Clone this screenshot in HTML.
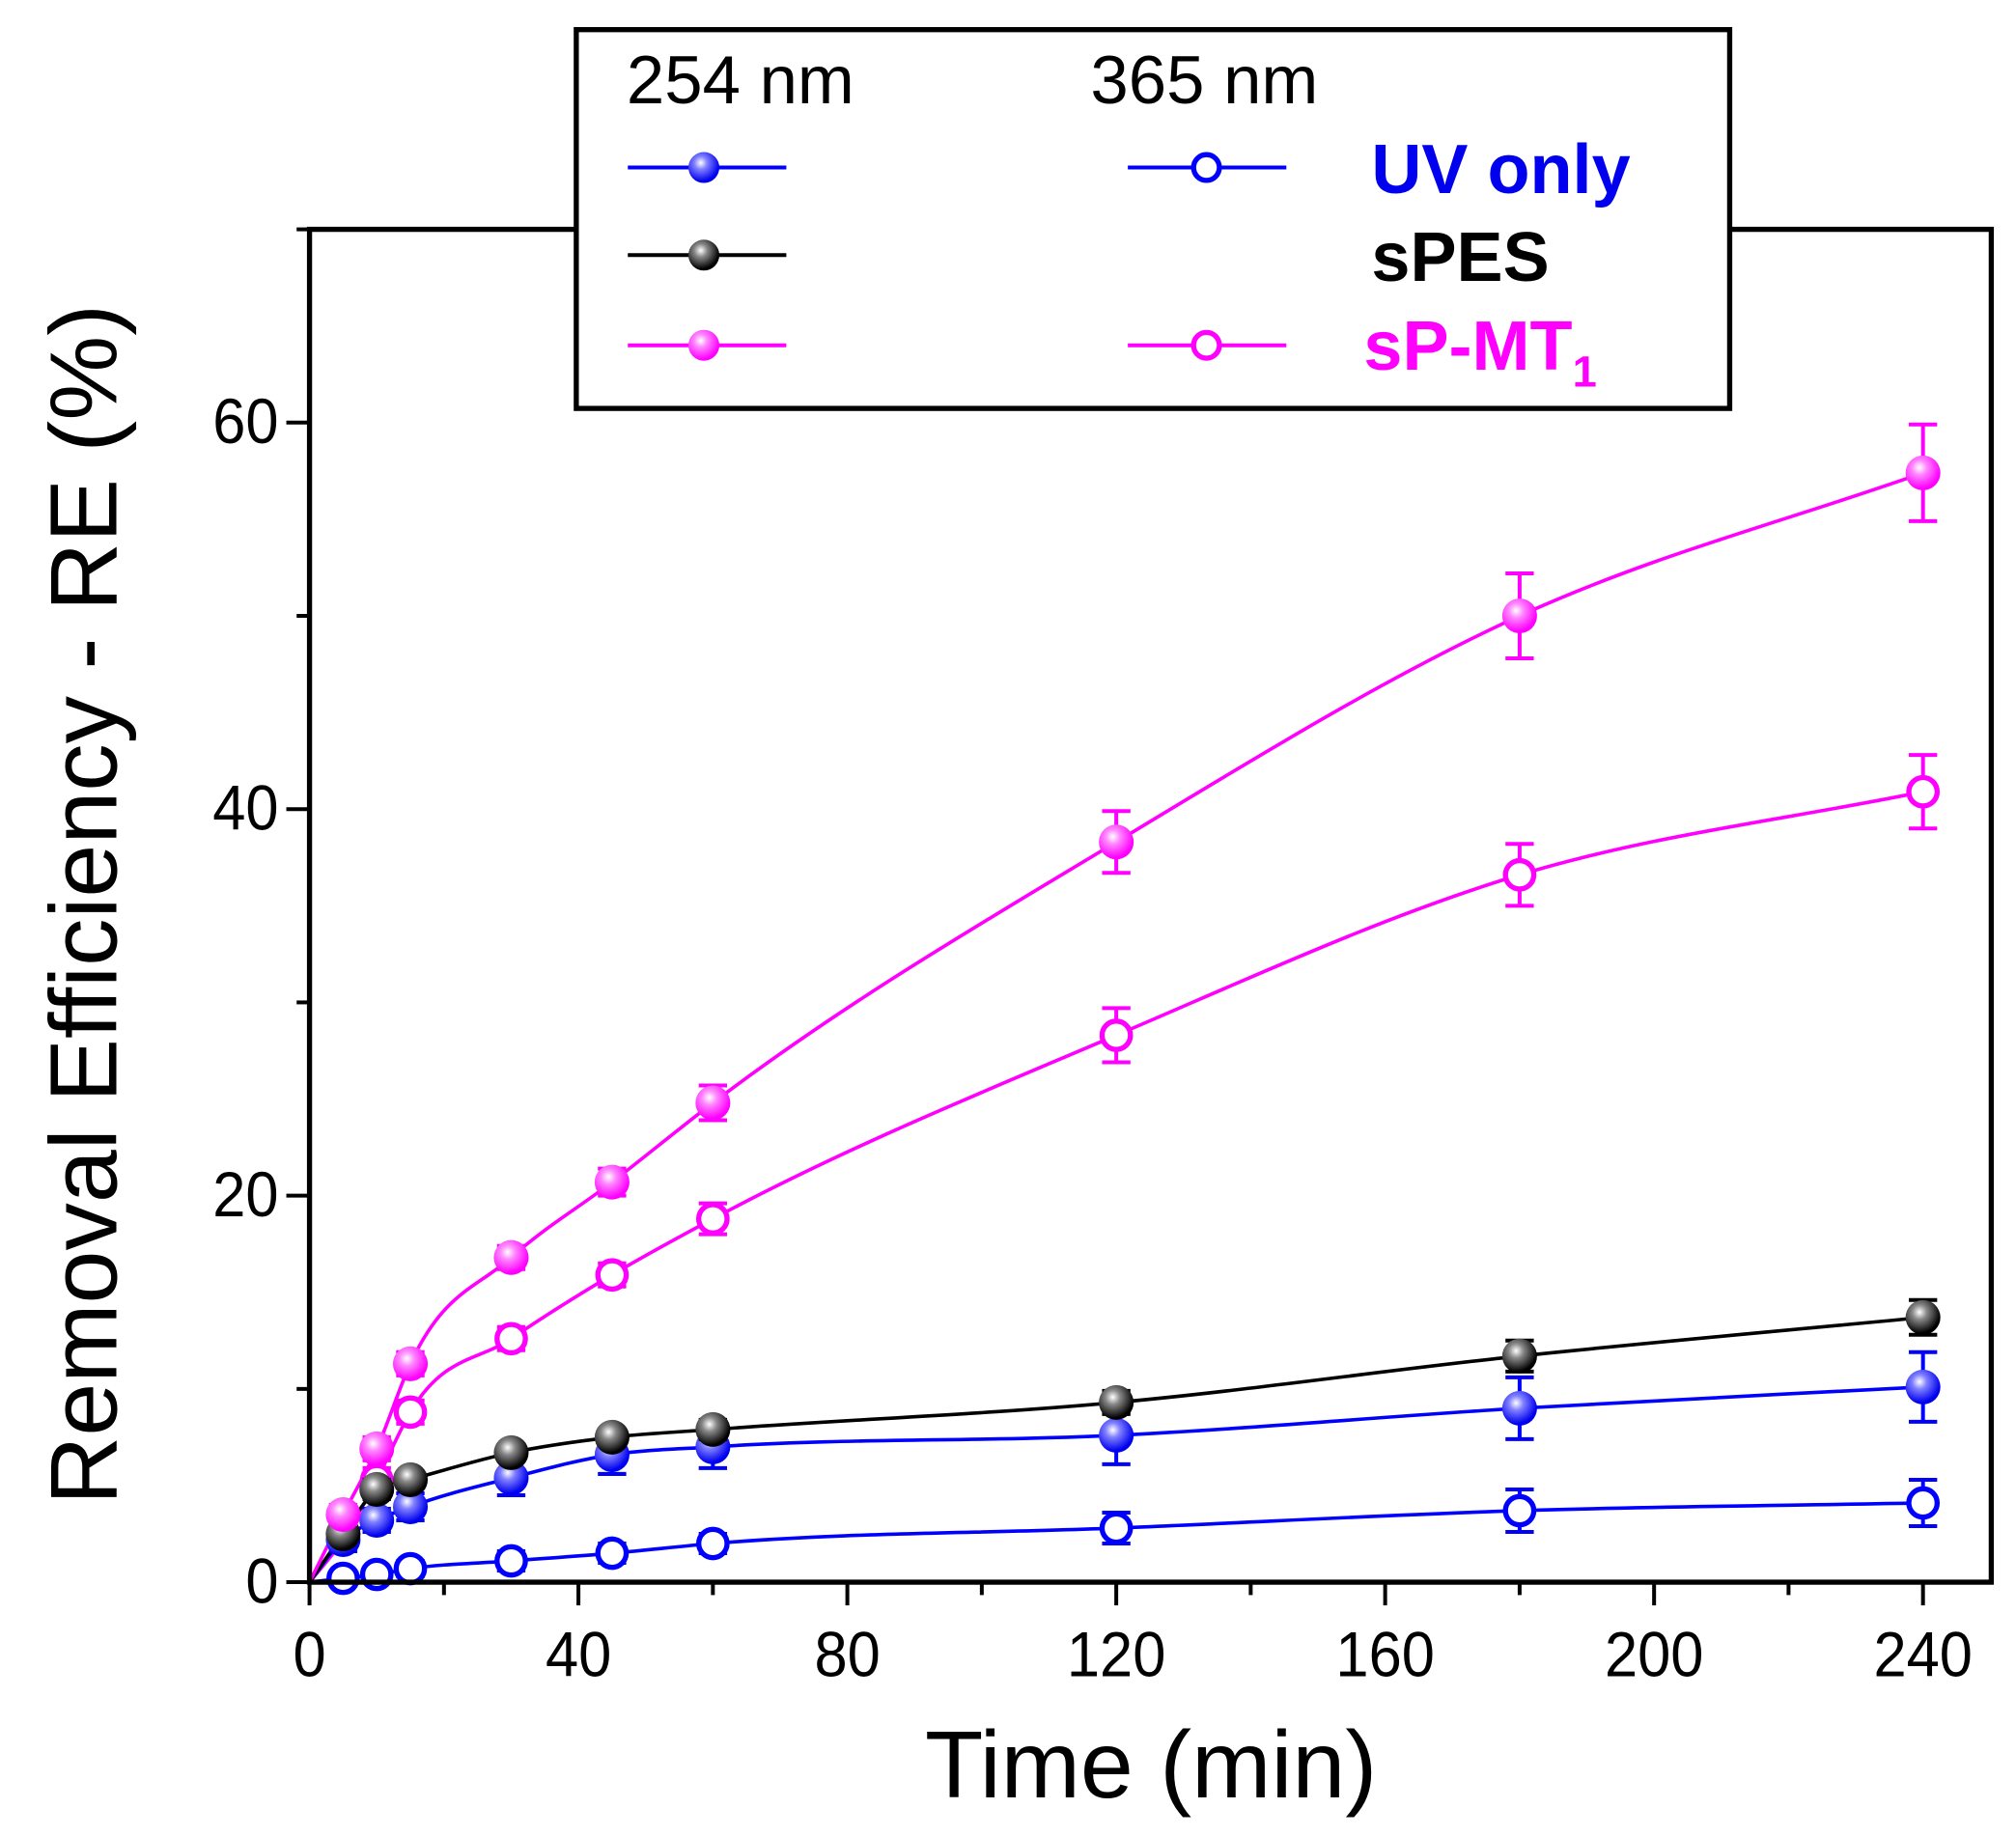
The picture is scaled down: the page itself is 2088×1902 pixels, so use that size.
<!DOCTYPE html>
<html><head><meta charset="utf-8"><style>
html,body{margin:0;padding:0;background:#fff}
svg{display:block}
text{font-family:"Liberation Sans",Arial,sans-serif}
</style></head><body>
<svg id="s" width="2088" height="1902" viewBox="0 0 1564 1425" xmlns="http://www.w3.org/2000/svg">
<defs>
<radialGradient id="gb" cx="0.4" cy="0.35" r="0.6"><stop offset="0" stop-color="#fff"/><stop offset="0.35" stop-color="#8080ff"/><stop offset="1" stop-color="#0000ee"/></radialGradient>
<radialGradient id="gk" cx="0.4" cy="0.35" r="0.6"><stop offset="0" stop-color="#fff"/><stop offset="0.35" stop-color="#888"/><stop offset="1" stop-color="#000"/></radialGradient>
<radialGradient id="gm" cx="0.4" cy="0.35" r="0.6"><stop offset="0" stop-color="#fff"/><stop offset="0.35" stop-color="#ff88ff"/><stop offset="1" stop-color="#ff00ff"/></radialGradient>
</defs>
<g id="plot"></g>
<rect x="240" y="178" width="1305" height="1050" fill="none" stroke="#000" stroke-width="4"/>
<g id="ticks" stroke="#000" stroke-width="3"></g>
<g font-size="46" fill="#000" id="tl"></g>
<text x="893" y="1395" font-size="74" text-anchor="middle">Time (min)</text>
<text transform="translate(90,702) rotate(-90)" font-size="74" text-anchor="middle">Removal Efficiency - RE (%)</text>
<rect x="447" y="23" width="895" height="294" fill="#fff" stroke="#000" stroke-width="4"/>
<text x="486" y="80" font-size="53">254 nm</text>
<text x="846" y="80" font-size="53">365 nm</text>
<g stroke-width="3">
<line x1="487" y1="130" x2="610" y2="130" stroke="#0000ff"/>
<line x1="487" y1="198" x2="610" y2="198" stroke="#000"/>
<line x1="487" y1="268" x2="610" y2="268" stroke="#ff00ff"/>
<line x1="875" y1="130" x2="998" y2="130" stroke="#0000ff"/>
<line x1="875" y1="268" x2="998" y2="268" stroke="#ff00ff"/>
</g>
<circle cx="546" cy="130" r="12" fill="url(#gb)"/>
<circle cx="546" cy="198" r="12" fill="url(#gk)"/>
<circle cx="546" cy="268" r="12" fill="url(#gm)"/>
<circle cx="936" cy="130" r="10" fill="#fff" stroke="#0000ff" stroke-width="4"/>
<circle cx="936" cy="268" r="10" fill="#fff" stroke="#ff00ff" stroke-width="4"/>
<g font-size="54" font-weight="bold">
<text x="1064" y="150" fill="#0000ee">UV only</text>
<text x="1064" y="218" fill="#000">sPES</text>
<text x="1058" y="287" fill="#ff00ff">sP-MT<tspan font-size="34" dy="13">1</tspan></text>
</g>
</svg>
<script>
var X=function(t){return 240+t*5.2167},Y=function(v){return 1228-v*15};
var tt=[5,10,15,30,45,60,120,180,240];
var S=[
 {c:'#ff00ff',o:1,v:[2.2,5.3,8.8,12.6,15.9,18.8,28.3,36.6,40.9],e:[0.5,0.6,0.6,0.6,0.6,0.8,1.4,1.6,1.9]},
 {c:'#0000ff',o:1,v:[0.2,0.4,0.7,1.1,1.5,2.0,2.8,3.7,4.1],e:[0.3,0.3,0.4,0.5,0.5,0.5,0.8,1.1,1.2]},
 {c:'#0000ff',f:'url(#gb)',v:[2.2,3.2,3.9,5.4,6.6,7.0,7.6,9.0,10.1],e:[0.6,0.6,0.7,0.9,1.0,1.1,1.5,1.6,1.8]},
 {c:'#000',f:'url(#gk)',v:[2.5,4.8,5.3,6.7,7.5,7.9,9.3,11.7,13.7],e:[0.4,0.5,0.4,0.4,0.4,0.5,0.6,0.8,0.9]},
 {c:'#ff00ff',f:'url(#gm)',v:[3.5,6.9,11.3,16.8,20.7,24.8,38.3,50.0,57.4],e:[0.5,0.6,0.6,0.6,0.7,0.9,1.6,2.2,2.5]}
];
var g='';
S.forEach(function(s){
 var p=[[X(0),Y(0)]];tt.forEach(function(t,i){p.push([X(t),Y(s.v[i])]);});
 var n=p.length,m=[];
 for(var i=0;i<n;i++){
  if(i==0)m[i]=(p[1][1]-p[0][1])/(p[1][0]-p[0][0]);
  else if(i==n-1)m[i]=(p[i][1]-p[i-1][1])/(p[i][0]-p[i-1][0]);
  else{var h0=p[i][0]-p[i-1][0],h1=p[i+1][0]-p[i][0],d0=(p[i][1]-p[i-1][1])/h0,d1=(p[i+1][1]-p[i][1])/h1;
   m[i]=(d0*h1+d1*h0)/(h0+h1);}
 }
 var d='M'+p[0][0]+','+p[0][1];
 for(var i=0;i<n-1;i++){var h=(p[i+1][0]-p[i][0])/3;
  d+=' C'+(p[i][0]+h)+','+(p[i][1]+m[i]*h)+' '+(p[i+1][0]-h)+','+(p[i+1][1]-m[i+1]*h)+' '+p[i+1][0]+','+p[i+1][1];}
 g+='<path d="'+d+'" fill="none" stroke="'+s.c+'" stroke-width="2.7"/>';
});
S.forEach(function(s){
 tt.forEach(function(t,i){var x=X(t),y1=Y(s.v[i]+s.e[i]),y2=Y(s.v[i]-s.e[i]);
  g+='<path d="M'+x+','+y1+'V'+y2+'M'+(x-11)+','+y1+'H'+(x+11)+'M'+(x-11)+','+y2+'H'+(x+11)+'" stroke="'+s.c+'" stroke-width="3" fill="none"/>';});
 tt.forEach(function(t,i){var x=X(t),y=Y(s.v[i]);
  if(s.o)g+='<circle cx="'+x+'" cy="'+y+'" r="11" fill="#fff" stroke="'+s.c+'" stroke-width="4"/>';
  else g+='<circle cx="'+x+'" cy="'+y+'" r="13.5" fill="'+s.f+'"/>';});
});
document.getElementById('plot').innerHTML=g;
var k='';
for(var t=0;t<=240;t+=20){var x=X(t),L=(t%40==0)?18:10;k+='<line x1="'+x+'" y1="1228" x2="'+x+'" y2="'+(1228+L)+'"/>';}
for(var v=0;v<=70;v+=10){var y=Y(v),L=(v%20==0)?18:10;k+='<line x1="240" y1="'+y+'" x2="'+(240-L)+'" y2="'+y+'"/>';}
document.getElementById('ticks').innerHTML=k;
var tl='';
[0,20,40,60].forEach(function(v){var y=Y(v)+16;tl+='<text transform="translate(216,'+y+') scale(1,1.08)" text-anchor="end">'+v+'</text>';});
[0,40,80,120,160,200,240].forEach(function(t){tl+='<text transform="translate('+X(t)+',1301) scale(1,1.08)" text-anchor="middle">'+t+'</text>';});
document.getElementById('tl').innerHTML=tl;
</script>
</body></html>
